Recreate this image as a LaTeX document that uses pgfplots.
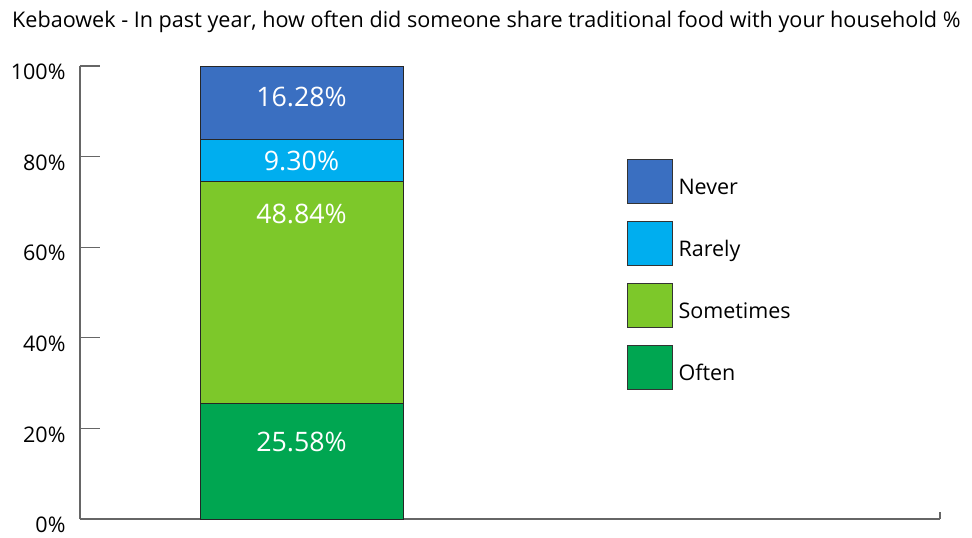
\documentclass[border=0pt]{standalone}
\usepackage{pgfplots}
\pgfplotsset{compat=1.18}
\usetikzlibrary{calc}
\usepackage{fontspec}
\setmainfont{Open Sans}
\definecolor{cnever}{HTML}{3A6FC1}
\definecolor{crarely}{HTML}{00AEEF}
\definecolor{csometimes}{HTML}{7DC82A}
\definecolor{coften}{HTML}{00A651}
\definecolor{axgray}{HTML}{666666}

\begin{document}
\begin{tikzpicture}
\begin{axis}[
  scale only axis,
  width=860pt, height=453pt,
  xmin=0, xmax=860, ymin=0, ymax=100,
  ybar stacked, bar width=203,
  axis x line=bottom, axis y line=left,
  axis line style={-, axgray, line width=1.2pt},
  xtick=\empty,
  ytick={0,20,40,60,80,100},
  yticklabels={0\%,20\%,40\%,60\%,80\%,100\%},
  yticklabel style={font=\fontsize{21.5}{25}\selectfont, yshift=-6pt, xshift=-11pt},
  tick align=inside, major tick length=20pt,
  tick style={axgray, line width=1.2pt},
  clip=false,
  reverse legend,
  legend cell align=left,
  legend style={draw=none, fill=none, at={(rel axis cs:0.632,0.799)}, anchor=north west,
    font=\fontsize{21.5}{25}\selectfont, row sep=17pt,
    /tikz/every odd column/.append style={column sep=4pt}},
  legend image code/.code={\draw[#1, draw=black!80, line width=0.8pt] (0pt,-16pt) rectangle (45pt,28pt);},
]
\addplot[fill=coften, draw=black!85, line width=0.8pt] coordinates {(221.5,25.58)};
\addplot[fill=csometimes, draw=black!85, line width=0.8pt] coordinates {(221.5,48.84)};
\addplot[fill=crarely, draw=black!85, line width=0.8pt] coordinates {(221.5,9.30)};
\addplot[fill=cnever, draw=black!85, line width=0.8pt] coordinates {(221.5,16.28)};
\legend{Often,Sometimes,Rarely,Never}
\coordinate (O) at (rel axis cs:0,0);
\coordinate (L1) at (axis cs:221.5,93.2);
\coordinate (L2) at (axis cs:221.5,79.0);
\coordinate (L3) at (axis cs:221.5,67.3);
\coordinate (L4) at (axis cs:221.5,17.1);
\coordinate (T) at (rel axis cs:-0.0791,1.097);
\draw[axgray, line width=1.2pt] (axis cs:860,0) -- (axis cs:860,1.6);
\end{axis}
\begin{scope}[every node/.style={text=white, font=\fontsize{26.8}{31}\selectfont}]
\node at (L1) {16.28\%};
\node at (L2) {9.30\%};
\node at (L3) {48.84\%};
\node at (L4) {25.58\%};
\end{scope}
\node[anchor=west, inner sep=0pt, font=\fontsize{21.6}{25}\selectfont] at (T)
  {Kebaowek - In past year, how often did someone share traditional food with your household \%};
\pgfresetboundingbox
\path[use as bounding box] ([shift={(-80pt,-19pt)}]O) rectangle ++(972pt,538pt);
\end{tikzpicture}
\end{document}
